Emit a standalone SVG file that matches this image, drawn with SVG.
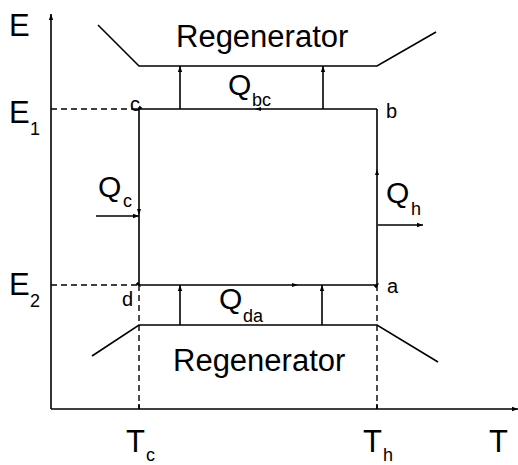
<svg xmlns="http://www.w3.org/2000/svg" width="518" height="465" viewBox="0 0 518 465">
<defs>
<marker id="ah" viewBox="0 0 6 6" refX="6" refY="3" markerWidth="6" markerHeight="6" markerUnits="userSpaceOnUse" orient="auto">
<path d="M0,0.8 L6,3 L0,5.2 Z" fill="#000"/>
</marker>
<marker id="mid" viewBox="0 0 6 6" refX="3" refY="3" markerWidth="6" markerHeight="6" markerUnits="userSpaceOnUse" orient="auto">
<path d="M0,1 L6,3 L0,5 Z" fill="#000"/>
</marker>
</defs>
<style>
.ln{stroke:#000;stroke-width:1.6;fill:none}
.ds{stroke:#000;stroke-width:1.4;fill:none;stroke-dasharray:6,4}
.t{font-family:"Liberation Sans",Arial,sans-serif;fill:#000}
.big{font-size:31px}
.q{font-size:30px}
.reg{font-size:31px}
.sub{font-size:18px}
.pt{font-size:20px}
</style>
<rect width="518" height="465" fill="#fff"/>
<g id="axes">
<line class="ln" x1="51" y1="409" x2="51" y2="14" marker-end="url(#ah)"/>
<line class="ln" x1="51" y1="409" x2="518" y2="409" marker-end="url(#ah)"/>
<text class="t big" x="9" y="36">E</text>
<text class="t big" x="489" y="452">T</text>
</g>
<g id="guides">
<line class="ds" x1="51" y1="109" x2="139" y2="109"/>
<line class="ds" x1="51" y1="285" x2="139" y2="285"/>
<line class="ds" x1="139" y1="285" x2="139" y2="409"/>
<line class="ds" x1="377" y1="285" x2="377" y2="409"/>
<line class="ln" x1="139" y1="404" x2="139" y2="409"/>
<line class="ln" x1="377" y1="404" x2="377" y2="409"/>
</g>
<g id="labels-axis">
<text class="t big" x="9" y="123">E</text><text class="t sub" x="30" y="135">1</text>
<text class="t big" x="9" y="295">E</text><text class="t sub" x="30" y="307">2</text>
<text class="t big" x="126" y="452">T</text><text class="t sub" x="146" y="461">c</text>
<text class="t big" x="363" y="452">T</text><text class="t sub" x="383" y="461">h</text>
</g>
<g id="regenerator-top">
<polyline class="ln" points="98,25 139,66 377,66 436,32"/>
<text class="t reg" x="176" y="47">Regenerator</text>
</g>
<g id="regenerator-bottom">
<polyline class="ln" points="92,356 139,325 377,325 438,362"/>
<text class="t reg" x="173" y="371">Regenerator</text>
</g>
<g id="cycle">
<path class="ln" d="M377,109 L258,109 L139,109 L139,212 L139,285 L295,285 L377,285 L377,172 L377,109" marker-mid="url(#mid)"/>
<text class="t pt" x="130" y="111">c</text>
<text class="t pt" x="386" y="118">b</text>
<text class="t pt" x="122" y="306">d</text>
<text class="t pt" x="387" y="293">a</text>
</g>
<g id="connectors">
<line class="ln" x1="180" y1="109" x2="180" y2="66" marker-end="url(#ah)"/>
<line class="ln" x1="323" y1="109" x2="323" y2="66" marker-end="url(#ah)"/>
<line class="ln" x1="180" y1="325" x2="180" y2="285" marker-end="url(#ah)"/>
<line class="ln" x1="322" y1="325" x2="322" y2="285" marker-end="url(#ah)"/>
<line class="ln" x1="96" y1="216" x2="139" y2="216" marker-end="url(#ah)"/>
<line class="ln" x1="378" y1="225" x2="423" y2="225" marker-end="url(#ah)"/>
</g>
<g id="heat-labels">
<text class="t q" x="228" y="95">Q</text><text class="t sub" x="252" y="106">bc</text>
<text class="t q" x="219" y="309">Q</text><text class="t sub" x="243" y="322">da</text>
<text class="t q" x="98" y="197">Q</text><text class="t sub" x="123" y="207">c</text>
<text class="t q" x="386" y="203">Q</text><text class="t sub" x="411" y="215">h</text>
</g>
</svg>
